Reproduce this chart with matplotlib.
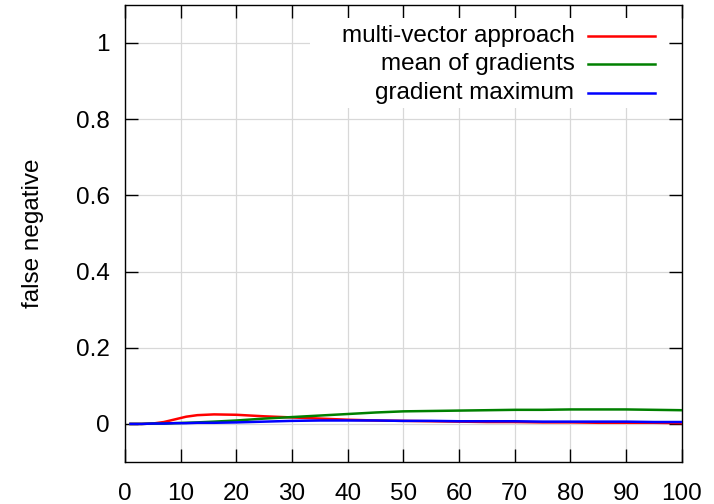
import matplotlib.pyplot as plt
from matplotlib.patches import Rectangle

plt.rcParams['font.family'] = ['Liberation Sans', 'DejaVu Sans']

# false-negative rate over the parameter sweep
x = [1, 3, 5, 7, 9, 11, 13, 16, 20, 25, 30, 35, 40, 45, 50, 55, 60, 65, 70,
     75, 80, 85, 90, 95, 100]
multi_vector = [0, 0, 0.001, 0.005, 0.012, 0.019, 0.023, 0.025, 0.024, 0.020,
                0.017, 0.014, 0.011, 0.009, 0.008, 0.007, 0.006, 0.005, 0.005,
                0.004, 0.004, 0.003, 0.003, 0.003, 0.002]
mean_grad = [0, 0, 0.001, 0.001, 0.002, 0.003, 0.004, 0.006, 0.009, 0.014,
             0.018, 0.022, 0.026, 0.030, 0.033, 0.034, 0.035, 0.036, 0.037,
             0.037, 0.038, 0.038, 0.038, 0.037, 0.036]
grad_max = [0, 0, 0.001, 0.001, 0.002, 0.002, 0.003, 0.003, 0.004, 0.006,
            0.008, 0.009, 0.009, 0.009, 0.008, 0.008, 0.007, 0.007, 0.007,
            0.006, 0.006, 0.006, 0.006, 0.005, 0.005]

series = [
    ('multi-vector approach', multi_vector, '#ff0000'),
    ('mean of gradients', mean_grad, '#008000'),
    ('gradient maximum', grad_max, '#0000ff'),
]

xticks = list(range(0, 101, 10))
yticks = [0, 0.2, 0.4, 0.6, 0.8, 1]
ytick_labels = ['0', '0.2', '0.4', '0.6', '0.8', '1']

fs = 17.5

fig = plt.figure(figsize=(7.14, 5.04), dpi=100)
ax = fig.add_axes([0.175, 0.0833, 0.780, 0.907])

ax.set_xlim(0, 100)
ax.set_ylim(-0.1, 1.1)
ax.set_xticks(xticks)
ax.set_yticks(yticks)
ax.set_yticklabels(ytick_labels)
ax.tick_params(direction='in', length=9.5, width=1, top=True, right=True,
               labelsize=fs, colors='black')
ax.tick_params(axis='x', pad=15)
ax.tick_params(axis='y', pad=11)
ax.grid(True, color='#d8d8d8', linewidth=0.9)
ax.set_axisbelow(True)
for sp in ax.spines.values():
    sp.set_linewidth(1.0)

ax.set_ylabel('false negative', fontsize=fs, labelpad=23)

for label, ys, col in series:
    ax.plot(x, ys, color=col, linewidth=1.8, zorder=3)

# key box, gnuplot style: text right-aligned, sample to the right
ax.add_patch(Rectangle((0.332, 0.775), 0.645, 0.196, transform=ax.transAxes,
                       facecolor='white', edgecolor='none', zorder=1))
row_y = [0.932, 0.870, 0.807]
for (label, ys, col), ry in zip(series, row_y):
    ax.text(0.807, ry, label, transform=ax.transAxes, ha='right', va='center',
            fontsize=fs, zorder=4)
    ax.plot([0.832, 0.951], [ry, ry], transform=ax.transAxes, color=col,
            linewidth=1.8, zorder=4)

fig.savefig('out.png', dpi=100)
